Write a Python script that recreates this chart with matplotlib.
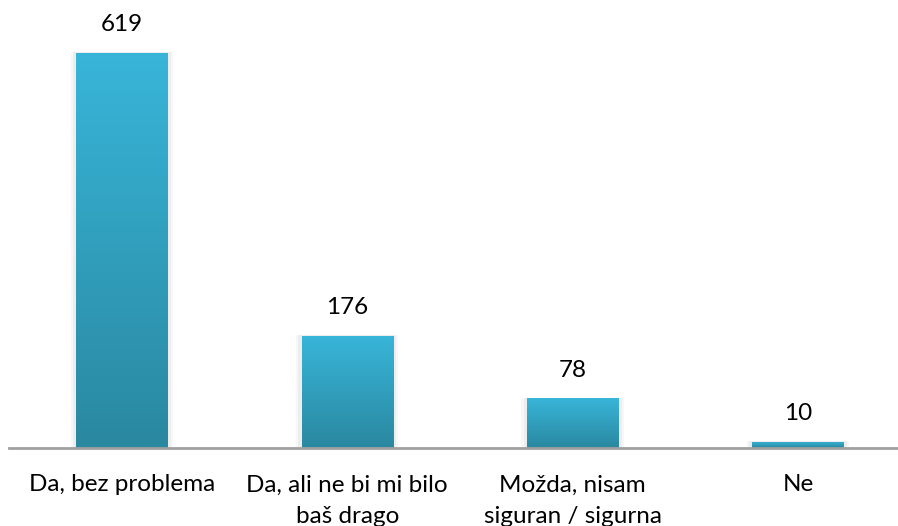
import numpy as np
import matplotlib.pyplot as plt
from matplotlib.colors import LinearSegmentedColormap

categories = ["Da, bez problema", "Da, ali ne bi mi bilo\nbaš drago",
              "Možda, nisam\nsiguran / sigurna", "Ne"]
values = [619, 176, 78, 10]

plt.rcParams['font.family'] = ['Lato', 'DejaVu Sans']

fig = plt.figure(figsize=(8.98, 5.26), dpi=100)
ax = fig.add_axes([9.3/898, 78/526, 901.3/898, 448/526])

x = np.arange(len(categories))
bar_width = 0.404
cmap = LinearSegmentedColormap.from_list("bar", ["#2a88a0", "#38b5d9"])
grad = np.linspace(0, 1, 256).reshape(-1, 1)

bars = ax.bar(x, values, width=bar_width, color="none", edgecolor="none", zorder=2)
for b, v in zip(bars, values):
    x0 = b.get_x()
    cx = x0 + bar_width / 2
    # soft shadow on both sides
    for w, a in [(0.05, 0.03), (0.03, 0.04)]:
        ax.bar(cx, v + 1, width=bar_width + w, color="#000000", alpha=a, zorder=1)
    im = ax.imshow(grad, cmap=cmap, origin="lower", aspect="auto",
                   extent=(x0, x0 + bar_width, 0, v), zorder=2)
    im.set_clip_path(b)
    ax.text(cx, v + 44, str(v), ha="center", va="center",
            fontsize=17.5, color="#000000")

ax.set_xlim(-0.5, 3.5)
ax.set_ylim(0, 702)
for s in ["top", "right", "left"]:
    ax.spines[s].set_visible(False)
ax.spines["bottom"].set_color("#a0a0a0")
ax.spines["bottom"].set_linewidth(2)
ax.set_yticks([])
ax.set_xticks(x)
ax.set_xticklabels(categories, fontsize=17.5, linespacing=1.6, va="top")
ax.tick_params(axis="x", length=0, pad=19)

fig.savefig("out.png", dpi=100)
